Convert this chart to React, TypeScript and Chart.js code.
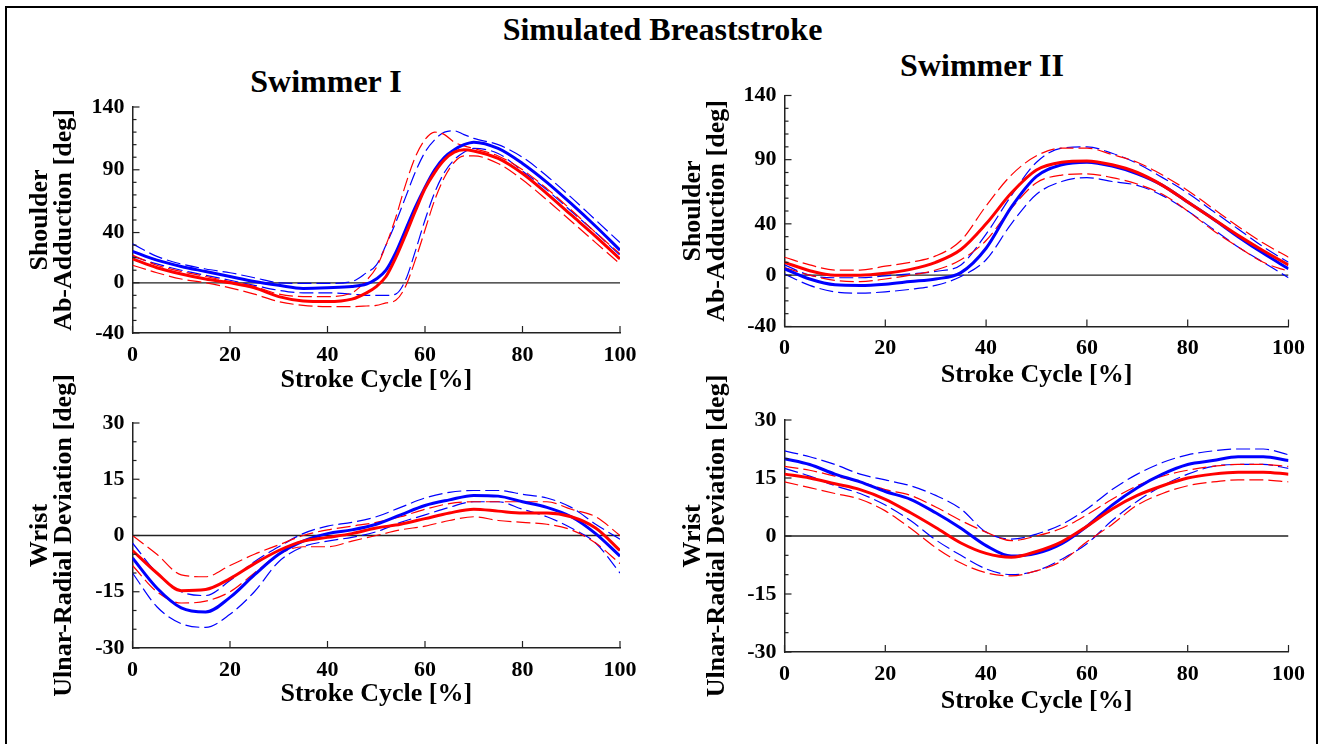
import React, { useEffect, useRef } from "react";
import { Chart, registerables } from "chart.js";

Chart.register(...registerables);

const FONT = "'Liberation Serif', 'Times New Roman', serif";

// ---------- Data ----------
const X_TICKS = [0, 20, 40, 60, 80, 100];
const SHOULDER_TICKS = [-40, 0, 40, 90, 140];
const WRIST_TICKS = [-30, -15, 0, 15, 30];
const SHOULDER_MINOR_STEP = 10;
const WRIST_MINOR_STEP = 5;

const SHOULDER_TITLE = ["Shoulder", "Ab-Adduction [deg]"];
const WRIST_TITLE = ["Wrist", "Ulnar-Radial Deviation [deg]"];
const X_TITLE = "Stroke Cycle [%]";

// Swimmer I - Shoulder
const S1_SH_X = [0, 5, 10, 15, 20, 25, 30, 35, 40, 45, 48, 50, 52, 54, 56, 58, 60, 62, 64, 66, 68, 70, 75, 80, 85, 90, 95, 100];
const S1_SH_BLUE_MEAN = [25, 18, 13, 9, 5, 1, -2, -4.5, -4, -3, -1, 3, 10, 24, 42, 60, 76, 90, 100, 106, 110, 112, 107, 95, 80, 63, 45, 26];
const S1_SH_BLUE_UP = [31, 21, 15, 11, 8, 4, 0, -0.5, -0.5, 1, 8, 14, 30, 48, 68, 88, 104, 114, 120, 121, 118, 115, 110, 100, 85, 68, 50, 32];
const S1_SH_BLUE_LO = [21, 15, 10, 6, 2, -2, -6, -8, -8, -9, -10, -10, -10, -9, 2, 25, 50, 72, 88, 98, 104, 107, 103, 89, 74, 57, 40, 22];
const S1_SH_RED_MEAN = [19, 12, 7, 3, 0, -4, -11, -14.5, -15, -13, -8, -3, 5, 20, 38, 57, 75, 88, 98, 104, 106, 105, 99, 87, 71, 54, 37, 19];
const S1_SH_RED_UP = [22, 14, 9, 5, 1, -3, -9, -11, -11, -8, 2, 12, 30, 52, 78, 100, 114, 120, 118, 112, 109, 107, 101, 90, 75, 58, 40, 23];
const S1_SH_RED_LO = [14, 8, 3, 0, -4, -9, -15, -18, -19, -19, -18.5, -18, -16, -14, -3, 18, 42, 66, 84, 96, 101, 101, 95, 82, 66, 49, 32, 15];

// common x grid for the other panels
const X_STEP5 = [0, 5, 10, 15, 20, 25, 30, 35, 40, 45, 50, 55, 60, 65, 70, 75, 80, 85, 90, 95, 100];

// Swimmer II - Shoulder
const S2_SH_BLUE_MEAN = [5, -3, -7.5, -8, -7, -5, -3, 2, 21, 53, 77, 86, 88, 85, 79, 70, 57, 44, 30, 17, 5];
const S2_SH_BLUE_UP = [8, 0, -2, -2, -0.5, 1, 3, 8, 32, 62, 88, 99, 100, 95, 87, 76, 64, 50, 36, 22, 10];
const S2_SH_BLUE_LO = [1, -8, -13, -14, -13, -11, -8, -1, 12, 40, 63, 73, 76, 73, 70, 62, 50, 36, 22, 10, -2];
const S2_SH_RED_MEAN = [10, 3.5, 0, 0, 1.5, 4.5, 10, 20, 40, 64, 82, 88, 89, 86, 80, 70, 57, 44, 31, 19, 8];
const S2_SH_RED_UP = [14, 8, 4, 4, 7, 10, 15, 27, 54, 78, 93, 99, 99, 94, 88, 78, 66, 52, 38, 25, 14];
const S2_SH_RED_LO = [6, 0, -4, -5, -3, 0, 4, 12, 27, 52, 72, 78, 79, 76, 71, 63, 50, 35, 22, 10, 3];

// Swimmer I - Wrist
const S1_WR_BLUE_MEAN = [-6, -14, -19.3, -20.4, -16.5, -10.5, -5, -1.5, 0.5, 1.5, 3, 5.5, 8, 9.5, 10.7, 10.5, 9, 7.5, 5, 0.5, -5.5];
const S1_WR_BLUE_UP = [-2, -10, -15, -16, -12, -7, -3, 0.5, 2.5, 3.5, 5, 7.5, 10, 11.5, 12, 12, 11, 10, 7.5, 3, -1];
const S1_WR_BLUE_LO = [-10, -19, -23.5, -24.5, -21, -15, -7, -3, -1.5, -0.5, 1, 3.5, 5.5, 7.5, 9, 9, 7, 5, 2, -2, -10];
const S1_WR_RED_MEAN = [-4, -10, -14.7, -14.4, -11.5, -7.5, -4, -1.5, -0.5, 0.5, 2, 3, 4.5, 6, 7, 6.5, 6, 6, 5, 2, -4];
const S1_WR_RED_UP = [0, -5, -10.5, -11, -8, -5, -2.5, 0, 1.5, 2.5, 3.5, 5, 7, 8.5, 9, 9, 9, 9, 7, 5, 0];
const S1_WR_RED_LO = [-8, -15, -18, -17.5, -15, -10, -5, -3, -3, -1.5, 0, 1.5, 2.5, 4, 5, 4, 3.5, 3, 1.5, -2, -7.5];

// Swimmer II - Wrist
const S2_WR_BLUE_MEAN = [20, 18.5, 16, 14, 11.5, 9.5, 6, 2, -2.5, -5.2, -4.5, -2, 2.5, 8, 12.5, 16, 18.5, 19.5, 20.5, 20.5, 19.5];
const S2_WR_BLUE_UP = [22, 20.5, 18.5, 16, 14.5, 13, 10.5, 7, 1, -0.8, 0.5, 3, 7, 12, 16, 19, 21, 22, 22.5, 22.5, 21];
const S2_WR_BLUE_LO = [17.5, 15.5, 13, 11, 8, 4, -1, -5, -8.5, -10, -9, -6, -2, 4, 9, 13, 16, 18, 18.5, 18.5, 17.5];
const S2_WR_RED_MEAN = [16, 15, 13.5, 12, 9.5, 6, 2.2, -1.8, -4.5, -5.5, -4, -1.5, 2.5, 7, 10.5, 13, 15, 16, 16.5, 16.5, 16];
const S2_WR_RED_UP = [18, 17, 15.5, 14, 12, 10.5, 7.5, 4, 1, -1.2, 0, 2, 5.5, 9.5, 13, 15.5, 17, 18, 18.5, 18.5, 18];
const S2_WR_RED_LO = [14, 12.5, 11, 9.5, 6.5, 2, -3, -7, -9.5, -10.3, -9, -6.5, -1.5, 3, 8, 11, 13, 14, 14.5, 14.5, 14];

const BLUE = "#0000ff";
const RED = "#ff0000";
const AXIS = "#222222";

type Series = { blueMean: number[]; blueUp: number[]; blueLo: number[]; redMean: number[]; redUp: number[]; redLo: number[] };

type PanelProps = {
  left: number;
  top: number;
  width: number;
  height: number;
  pad: { left: number; top: number; right: number; bottom: number };
  yWidth: number;
  xHeight: number;
  xs: number[];
  series: Series;
  yTicks: number[];
  minorStep: number;
  yTitle: string[];
};

const pts = (xs: number[], ys: number[]) => xs.map((x, i) => ({ x, y: ys[i] }));

const inwardTicks = {
  id: "inwardTicks",
  afterDatasetsDraw(chart: any, _args: any, opts: any) {
    const ctx = chart.ctx;
    const xs = chart.scales.x;
    const ys = chart.scales.y;
    ctx.save();
    ctx.strokeStyle = AXIS;
    ctx.lineWidth = 1.2;
    const axisX = ys.right;
    const axisY = xs.top;
    const minV = opts.yTicks[0];
    const maxV = opts.yTicks[opts.yTicks.length - 1];
    for (let v = minV; v <= maxV + 1e-9; v += opts.minorStep) {
      const p = ys.getPixelForValue(v);
      const major = opts.yTicks.includes(v);
      ctx.beginPath();
      ctx.moveTo(axisX, p);
      ctx.lineTo(axisX + (major ? 7 : 4), p);
      ctx.stroke();
    }
    for (const v of X_TICKS) {
      const p = xs.getPixelForValue(v);
      ctx.beginPath();
      ctx.moveTo(p, axisY);
      ctx.lineTo(p, axisY - 7);
      ctx.stroke();
    }
    ctx.restore();
  },
};

function Panel(props: PanelProps) {
  const ref = useRef<HTMLCanvasElement | null>(null);
  useEffect(() => {
    if (!ref.current) return;
    const { xs, series: s, yTicks } = props;
    const dashed = (data: number[], color: string) => ({
      data: pts(xs, data),
      borderColor: color,
      borderWidth: 1.2,
      borderDash: [14, 5],
      pointRadius: 0,
      cubicInterpolationMode: "monotone" as const,
      order: 2,
    });
    const chart = new Chart(ref.current, {
      type: "line",
      data: {
        datasets: [
          { data: pts(xs, s.redMean), borderColor: RED, borderWidth: 3, pointRadius: 0, cubicInterpolationMode: "monotone", order: 0 },
          { data: pts(xs, s.blueMean), borderColor: BLUE, borderWidth: 3, pointRadius: 0, cubicInterpolationMode: "monotone", order: 1 },
          dashed(s.redUp, RED),
          dashed(s.redLo, RED),
          dashed(s.blueUp, BLUE),
          dashed(s.blueLo, BLUE),
          { data: [{ x: 0, y: 0 }, { x: 100, y: 0 }], borderColor: "#222", borderWidth: 1.3, pointRadius: 0, order: 3 },
        ] as any,
      },
      options: {
        animation: false,
        responsive: false,
        devicePixelRatio: 1,
        layout: { padding: props.pad },
        plugins: {
          legend: { display: false },
          tooltip: { enabled: false },
          inwardTicks: { yTicks, minorStep: props.minorStep },
        } as any,
        scales: {
          x: {
            type: "linear",
            min: 0,
            max: 100,
            afterBuildTicks: (sc: any) => {
              sc.ticks = X_TICKS.map((v) => ({ value: v }));
            },
            afterFit: (sc: any) => {
              sc.height = props.xHeight;
            },
            grid: { display: true, drawOnChartArea: false, drawTicks: false },
            border: { display: true, color: AXIS, width: 1.5 },
            ticks: { color: "#000", padding: 9, maxRotation: 0, autoSkip: false, font: { family: FONT, size: 22, weight: "bold", lineHeight: 1.2 } },
            title: { display: true, text: X_TITLE, color: "#000", padding: 0, font: { family: FONT, size: 26, weight: "bold", lineHeight: 1 } },
          },
          y: {
            type: "linear",
            min: yTicks[0],
            max: yTicks[yTicks.length - 1],
            afterBuildTicks: (sc: any) => {
              sc.ticks = yTicks.map((v) => ({ value: v }));
            },
            afterFit: (sc: any) => {
              sc.width = props.yWidth;
            },
            grid: { display: true, drawOnChartArea: false, drawTicks: false },
            border: { display: true, color: AXIS, width: 1.5 },
            ticks: { color: "#000", padding: 8, autoSkip: false, font: { family: FONT, size: 22, weight: "bold", lineHeight: 1.2 } },
            title: { display: true, text: props.yTitle, color: "#000", padding: 0, font: { family: FONT, size: 26, weight: "bold", lineHeight: 0.93 } },
          },
        },
      } as any,
      plugins: [inwardTicks],
    });
    return () => chart.destroy();
  }, []);
  return (
    <canvas
      ref={ref}
      width={props.width}
      height={props.height}
      style={{ position: "absolute", left: props.left, top: props.top, width: props.width, height: props.height }}
    />
  );
}

const titleStyle = (cx: number, top: number, size: number): React.CSSProperties => ({
  position: "absolute",
  left: cx,
  top,
  transform: "translateX(-50%)",
  fontFamily: FONT,
  fontWeight: "bold",
  fontSize: size,
  lineHeight: `${size}px`,
  whiteSpace: "nowrap",
  color: "#000",
});

export default function App() {
  return (
    <div style={{ position: "absolute", left: 0, top: 0, width: 1322, height: 744, overflow: "hidden", background: "#fff" }}>
      <div style={{ position: "absolute", left: 5, top: 6, width: 1309, height: 800, border: "2px solid #000" }} />
      <div style={titleStyle(662.5, 12.5, 32)}>Simulated Breaststroke</div>
      <div style={titleStyle(326, 65, 32)}>Swimmer I</div>
      <div style={titleStyle(982, 49, 32)}>Swimmer II</div>
      <Panel
        left={20}
        top={75}
        width={630}
        height={320}
        pad={{ left: 8, top: 32, right: 30, bottom: 2 }}
        yWidth={104.5}
        xHeight={60}
        xs={S1_SH_X}
        series={{ blueMean: S1_SH_BLUE_MEAN, blueUp: S1_SH_BLUE_UP, blueLo: S1_SH_BLUE_LO, redMean: S1_SH_RED_MEAN, redUp: S1_SH_RED_UP, redLo: S1_SH_RED_LO }}
        yTicks={SHOULDER_TICKS}
        minorStep={SHOULDER_MINOR_STEP}
        yTitle={SHOULDER_TITLE}
      />
      <Panel
        left={673}
        top={63}
        width={649}
        height={327}
        pad={{ left: 8, top: 32.5, right: 33.5, bottom: 2 }}
        yWidth={103.5}
        xHeight={61.5}
        xs={X_STEP5}
        series={{ blueMean: S2_SH_BLUE_MEAN, blueUp: S2_SH_BLUE_UP, blueLo: S2_SH_BLUE_LO, redMean: S2_SH_RED_MEAN, redUp: S2_SH_RED_UP, redLo: S2_SH_RED_LO }}
        yTicks={SHOULDER_TICKS}
        minorStep={SHOULDER_MINOR_STEP}
        yTitle={SHOULDER_TITLE}
      />
      <Panel
        left={20}
        top={360}
        width={630}
        height={349}
        pad={{ left: 8, top: 63, right: 30, bottom: 2 }}
        yWidth={104.5}
        xHeight={59}
        xs={X_STEP5}
        series={{ blueMean: S1_WR_BLUE_MEAN, blueUp: S1_WR_BLUE_UP, blueLo: S1_WR_BLUE_LO, redMean: S1_WR_RED_MEAN, redUp: S1_WR_RED_UP, redLo: S1_WR_RED_LO }}
        yTicks={WRIST_TICKS}
        minorStep={WRIST_MINOR_STEP}
        yTitle={WRIST_TITLE}
      />
      <Panel
        left={673}
        top={360}
        width={649}
        height={356}
        pad={{ left: 8, top: 60, right: 33.5, bottom: 2 }}
        yWidth={103.5}
        xHeight={62}
        xs={X_STEP5}
        series={{ blueMean: S2_WR_BLUE_MEAN, blueUp: S2_WR_BLUE_UP, blueLo: S2_WR_BLUE_LO, redMean: S2_WR_RED_MEAN, redUp: S2_WR_RED_UP, redLo: S2_WR_RED_LO }}
        yTicks={WRIST_TICKS}
        minorStep={WRIST_MINOR_STEP}
        yTitle={WRIST_TITLE}
      />
    </div>
  );
}
